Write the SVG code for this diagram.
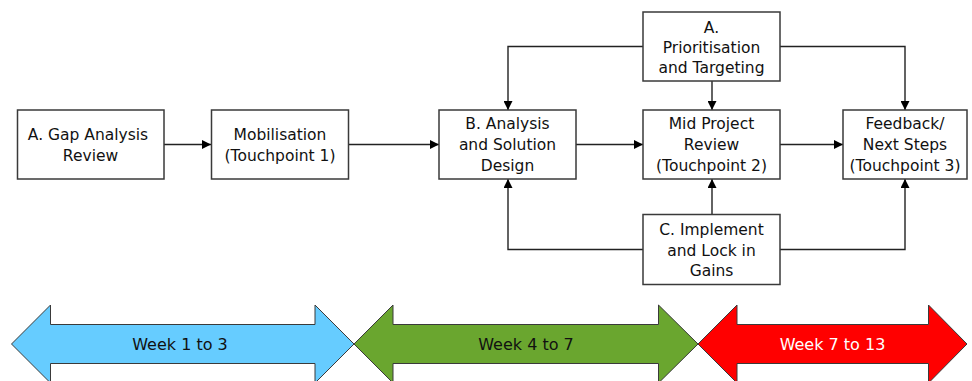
<svg xmlns="http://www.w3.org/2000/svg" width="972" height="381" viewBox="0 0 972 381">
<defs>
<marker id="ah" viewBox="0 0 10 10" refX="10" refY="5" markerWidth="9" markerHeight="9" markerUnits="userSpaceOnUse" orient="auto">
<path d="M0,0 L10,5 L0,10 z" fill="#000"/>
</marker>
<style>
.box{fill:#fff;stroke:#3a3a3a;stroke-width:1.5}
.t{font-family:"DejaVu Sans",Verdana,sans-serif;font-size:15.5px;fill:#111;text-anchor:middle}
.w{font-family:"DejaVu Sans",Verdana,sans-serif;font-size:16px;text-anchor:middle}
.c{fill:none;stroke:#222;stroke-width:1.4}
.ar{stroke:#3a3a3a;stroke-width:1}
</style>
</defs>
<rect width="972" height="381" fill="#fff"/>
<g id="connectors">
<path class="c" d="M164,144.5 L211,144.5" marker-end="url(#ah)"/>
<path class="c" d="M349,144.5 L439,144.5" marker-end="url(#ah)"/>
<path class="c" d="M576,144.5 L643,144.5" marker-end="url(#ah)"/>
<path class="c" d="M780,144.5 L843,144.5" marker-end="url(#ah)"/>
<path class="c" d="M643,46.5 L508,46.5 L508,110" marker-end="url(#ah)"/>
<path class="c" d="M780,46.5 L905,46.5 L905,110" marker-end="url(#ah)"/>
<path class="c" d="M712,81 L712,110" marker-end="url(#ah)"/>
<path class="c" d="M643,249.5 L508,249.5 L508,179" marker-end="url(#ah)"/>
<path class="c" d="M780,249.5 L905,249.5 L905,179" marker-end="url(#ah)"/>
<path class="c" d="M712,214 L712,179" marker-end="url(#ah)"/>
</g>
<g id="gap">
<rect class="box" x="17.5" y="110" width="146.5" height="69"/>
<text class="t" x="88" y="140">A. Gap Analysis</text>
<text class="t" x="90.5" y="161">Review</text>
</g>
<g id="mobilisation">
<rect class="box" x="211.5" y="110" width="137" height="69"/>
<text class="t" x="280" y="140">Mobilisation</text>
<text class="t" x="280" y="161">(Touchpoint 1)</text>
</g>
<g id="analysis">
<rect class="box" x="439" y="110" width="137" height="69"/>
<text class="t" x="507.5" y="129">B. Analysis</text>
<text class="t" x="507.5" y="150">and Solution</text>
<text class="t" x="507.5" y="171">Design</text>
</g>
<g id="prioritisation">
<rect class="box" x="643" y="12" width="137" height="69"/>
<text class="t" x="711.5" y="33">A.</text>
<text class="t" x="711.5" y="53">Prioritisation</text>
<text class="t" x="711.5" y="73">and Targeting</text>
</g>
<g id="midreview">
<rect class="box" x="643" y="110" width="137" height="69"/>
<text class="t" x="711.5" y="129">Mid Project</text>
<text class="t" x="711.5" y="150">Review</text>
<text class="t" x="711.5" y="171">(Touchpoint 2)</text>
</g>
<g id="feedback">
<rect class="box" x="843" y="110" width="124" height="69"/>
<text class="t" x="905" y="129">Feedback/</text>
<text class="t" x="905" y="150">Next Steps</text>
<text class="t" x="905" y="171">(Touchpoint 3)</text>
</g>
<g id="implement">
<rect class="box" x="643" y="214.5" width="137" height="70"/>
<text class="t" x="711.5" y="234.5">C. Implement</text>
<text class="t" x="711.5" y="255.5">and Lock in</text>
<text class="t" x="711.5" y="276">Gains</text>
</g>
<g id="week1">
<path class="ar" fill="#66CCFF" d="M11.5,344 L50.5,305 L50.5,324.5 L315,324.5 L315,305 L354,344 L315,383 L315,363.5 L50.5,363.5 L50.5,383 z"/>
<text class="w" x="180" y="350" fill="#111">Week 1 to 3</text>
</g>
<g id="week2">
<path class="ar" fill="#6AA62F" d="M354,344 L393,305 L393,324.5 L658.5,324.5 L658.5,305 L698,344 L658.5,383 L658.5,363.5 L393,363.5 L393,383 z"/>
<text class="w" x="526" y="350" fill="#111">Week 4 to 7</text>
</g>
<g id="week3">
<path class="ar" fill="#FF0000" d="M698,344 L737,305 L737,324.5 L928.5,324.5 L928.5,305 L967,344 L928.5,383 L928.5,363.5 L737,363.5 L737,383 z"/>
<text class="w" x="832.5" y="350" fill="#fff">Week 7 to 13</text>
</g>
</svg>
